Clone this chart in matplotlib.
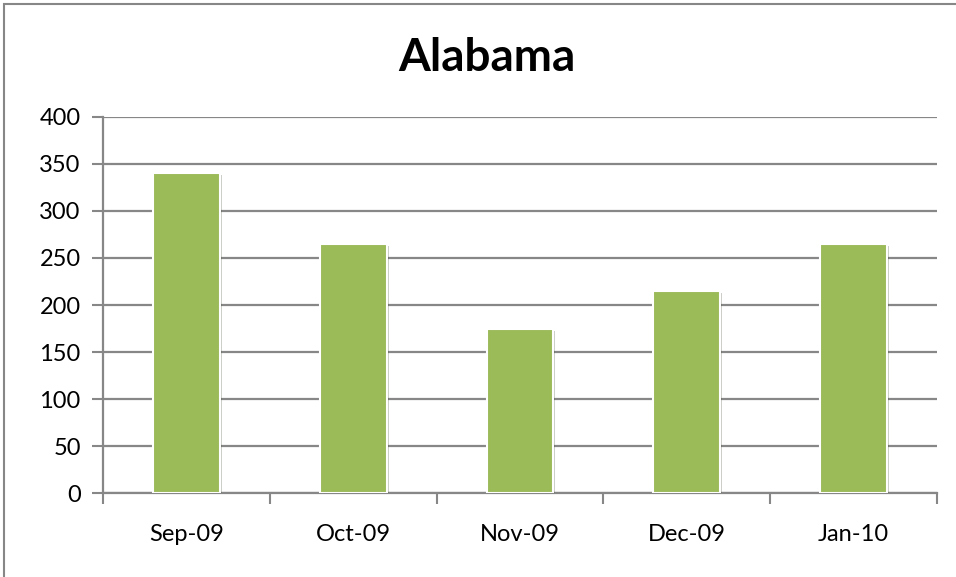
import numpy as np
import matplotlib.pyplot as plt
import matplotlib.patheffects as pe
from matplotlib.patches import Rectangle

# --- Données ---
mois = ["Sep-09", "Oct-09", "Nov-09", "Dec-09", "Jan-10"]
valeurs = [340, 265, 175, 215, 265]
graduations_y = [0, 50, 100, 150, 200, 250, 300, 350, 400]

plt.rcParams["font.family"] = ["Lato", "DejaVu Sans"]

fig = plt.figure(figsize=(9.56, 5.77), dpi=100)
ax = fig.add_axes([0.1077, 0.145, 0.8724, 0.6527])

gris = "#878787"
x = np.arange(len(mois))

# Grille horizontale
ax.set_axisbelow(True)
ax.yaxis.grid(True, color=gris, linewidth=1.6)

barres = ax.bar(x, valeurs, width=0.4, color="#9BBB59",
                edgecolor="white", linewidth=1.5, zorder=3)
for b in barres:
    b.set_path_effects([pe.SimplePatchShadow(offset=(1.5, -1.5), alpha=0.25),
                        pe.Normal()])

ax.set_xlim(-0.5, len(mois) - 0.5)
ax.set_ylim(0, 400)
ax.set_yticks(graduations_y)

# Ticks x aux frontières, étiquettes au centre
ax.set_xticks(np.arange(-0.5, len(mois)), labels=[""] * (len(mois) + 1))
ax.set_xticks(x, labels=mois, minor=True)
ax.tick_params(axis="x", which="major", direction="out", length=8,
               width=1.5, color=gris)
ax.tick_params(axis="x", which="minor", length=0, pad=22, labelsize=17)
ax.tick_params(axis="y", direction="out", length=8, width=1.5,
               color=gris, labelsize=17, pad=8)

for s in ["top", "right"]:
    ax.spines[s].set_visible(False)
for s in ["left", "bottom"]:
    ax.spines[s].set_color(gris)
    ax.spines[s].set_linewidth(1.6)

fig.text(0.509, 0.9, "Alabama", ha="center", va="center",
         fontsize=33, fontweight="bold")

# Cadre extérieur du graphique
cadre = Rectangle((4 / 956, -0.05), 1.1, (577 - 4) / 577 + 0.05,
                  transform=fig.transFigure, fill=False,
                  edgecolor=gris, linewidth=1.5)
fig.patches.append(cadre)

plt.savefig("out.png", dpi=100)
